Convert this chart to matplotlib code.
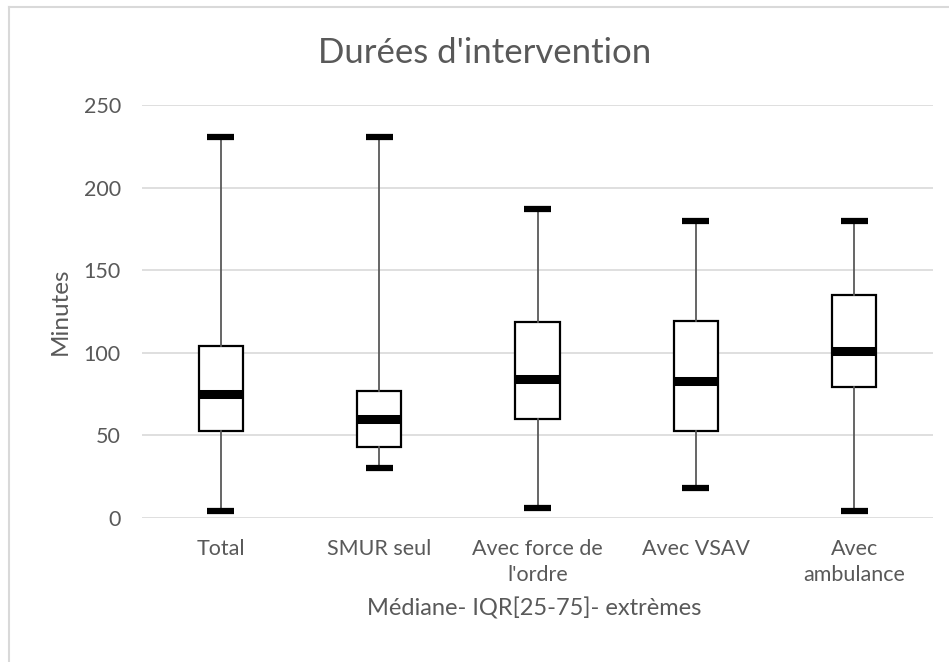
import matplotlib.pyplot as plt
from matplotlib.lines import Line2D

# data
categories = ["Total", "SMUR seul", "Avec force de\nl'ordre", "Avec VSAV", "Avec\nambulance"]
mins = [4, 30, 6, 18, 4]
q1 = [53, 43, 60, 53, 79.5]
medians = [75, 60, 84, 83, 101]
q3 = [104, 77, 118.5, 119.5, 135]
maxs = [231, 231, 187, 180, 180]

GREY = "#595959"
GRID = "#d9d9d9"

plt.rcParams['font.family'] = ['Lato', 'DejaVu Sans']

fig = plt.figure(figsize=(9.49, 6.62), dpi=100)
ax = fig.add_axes([0.1493, 0.2175, 0.8342, 0.6235])

stats = []
for i in range(len(categories)):
    stats.append({'whislo': mins[i], 'q1': q1[i], 'med': medians[i],
                  'q3': q3[i], 'whishi': maxs[i]})

pos = list(range(len(categories)))
ax.bxp(stats, positions=pos, widths=0.28, capwidths=0.17,
       showfliers=False, patch_artist=True,
       boxprops=dict(facecolor='white', edgecolor='black', linewidth=1.6),
       whiskerprops=dict(color=GREY, linewidth=1.3),
       capprops=dict(color='black', linewidth=4.5, solid_capstyle='butt'),
       medianprops=dict(color='black', linewidth=6.5, solid_capstyle='butt'))

ax.set_xticks(pos, categories, linespacing=1.4)
ax.set_xlim(-0.5, len(categories) - 0.5)
ax.set_ylim(0, 250)
ax.set_yticks(range(0, 251, 50))
ax.yaxis.grid(True, color=GRID, linewidth=1.2)
ax.set_axisbelow(True)
for s in ax.spines.values():
    s.set_visible(False)
ax.tick_params(length=0, colors=GREY, labelsize=15.5)
ax.tick_params(axis='x', pad=15)
ax.tick_params(axis='y', pad=15)

ax.set_ylabel("Minutes", color=GREY, fontsize=17.5, labelpad=9)
fig.text(0.563, 1 - 608 / 662, "Médiane- IQR[25-75]- extrèmes", color=GREY, fontsize=17,
         ha='center', va='center')
fig.text(0.5105, 0.92, "Durées d'intervention", color=GREY, fontsize=25,
         ha='center', va='center')

# chart area border (runs off the right and bottom edges)
fig.add_artist(Line2D([8.5 / 949, 1.0], [1 - 7 / 662] * 2, color=GRID, linewidth=1.5))
fig.add_artist(Line2D([8.5 / 949] * 2, [0.0, 1 - 7 / 662], color=GRID, linewidth=1.5))

fig.savefig("out.png", dpi=100)
